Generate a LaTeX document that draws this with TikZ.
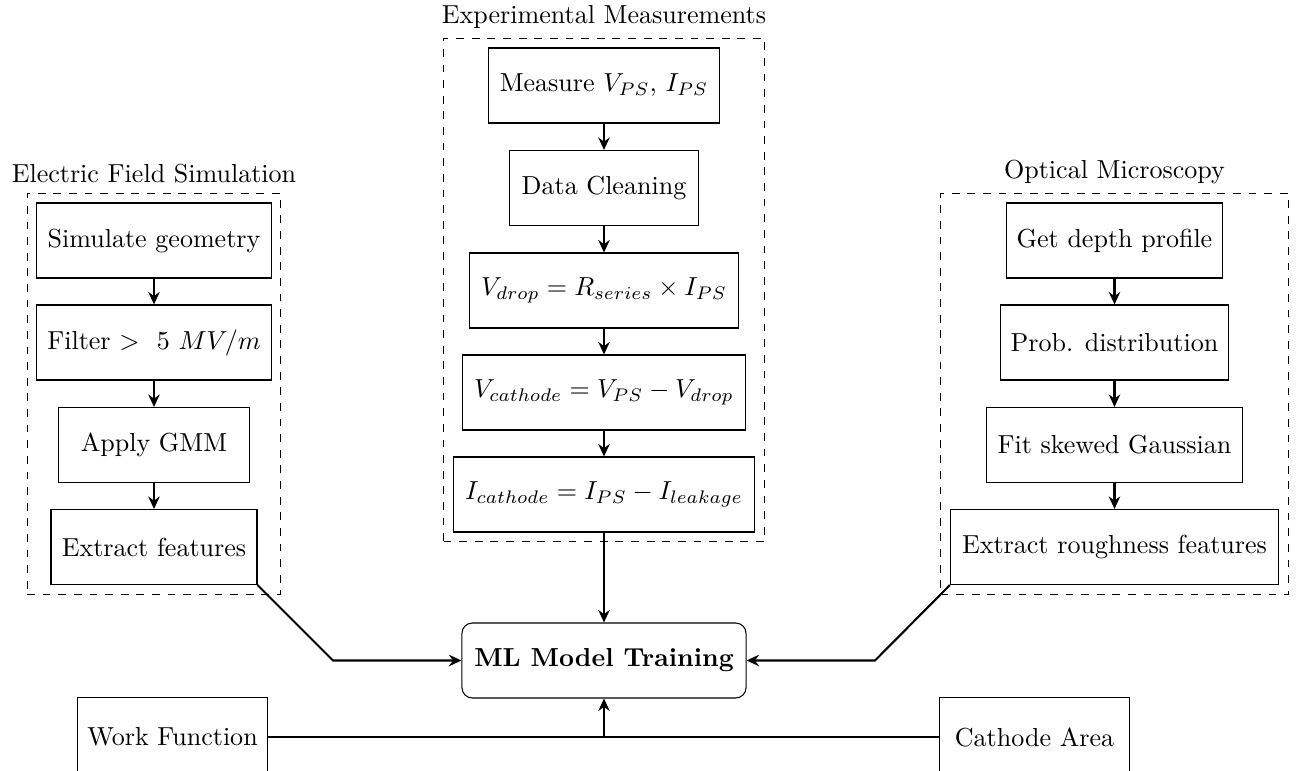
\documentclass[tikz,border=0pt]{standalone}
\usetikzlibrary{arrows.meta,fit}
\begin{document}
\begin{tikzpicture}[x=0.384pt,y=-0.384pt,
  stepbox/.style={draw, minimum height=28.8pt, inner xsep=2pt, align=center},
  arr/.style={thick, -{Stealth[length=4.8pt,width=4.4pt,inset=1.6pt]}},
  conn/.style={thick},
  group/.style={draw, dashed, inner sep=3.6pt},
  mlbox/.style={draw, rounded corners=4pt, minimum width=109.1pt, minimum height=28.8pt},
  inbox/.style={draw, minimum height=30pt}]
\clip (0,0) rectangle (1300,771);

% left column
\node[stepbox, minimum width=89.9pt] (l1) at (154,240.5) {Simulate geometry};
\node[stepbox, minimum width=89.9pt] (l2) at (154,342.5) {Filter $>$ \ 5 $MV/m$};
\node[stepbox, minimum width=73pt] (l3) at (154,445) {Apply GMM};
\node[stepbox, minimum width=79.1pt] (l4) at (154,547) {Extract features};

% middle column
\node[stepbox, minimum width=88.7pt] (m1) at (604,85.5) {Measure $V_{PS}$, $I_{PS}$};
\node[stepbox, minimum width=72.6pt] (m2) at (604,188) {Data Cleaning};
\node[stepbox, minimum width=103.3pt] (m3) at (604,290.5) {$V_{drop} = R_{series} \times I_{PS}$};
\node[stepbox, minimum width=108.7pt] (m4) at (604,392.5) {$V_{cathode} = V_{PS} - V_{drop}$};
\node[stepbox, minimum width=115.6pt] (m5) at (604,494.5) {$I_{cathode} = I_{PS} - I_{leakage}$};

% right column
\node[stepbox, minimum width=83.3pt] (r1) at (1114.5,240.5) {Get depth profile};
\node[stepbox, minimum width=87.9pt] (r2) at (1114.5,342.5) {Prob. distribution};
\node[stepbox, minimum width=98.3pt] (r3) at (1114.5,445) {Fit skewed Gaussian};
\node[stepbox, minimum width=126pt] (r4) at (1114.5,547) {Extract roughness features};

% groups
\node[group, fit=(l1)(l2)(l3)(l4), label=above:{Electric Field Simulation}] (gl) {};
\node[group, fit=(m1)(m2)(m3)(m4)(m5), label=above:{Experimental Measurements}] (gm) {};
\node[group, fit=(r1)(r2)(r3)(r4), label=above:{Optical Microscopy}] (gr) {};

% model and inputs
\node[mlbox] (ml) at (604,660.5) {\textbf{ML Model Training}};
\node[inbox, minimum width=73.3pt] (wf) at (172.5,737) {Work Function};
\node[inbox, minimum width=72.6pt] (ca) at (1034.5,737) {Cathode Area};

% arrows within columns
\draw[arr] (l1.south) -- (l2.north);
\draw[arr] (l2.south) -- (l3.north);
\draw[arr] (l3.south) -- (l4.north);
\draw[arr] (m1.south) -- (m2.north);
\draw[arr] (m2.south) -- (m3.north);
\draw[arr] (m3.south) -- (m4.north);
\draw[arr] (m4.south) -- (m5.north);
\draw[arr] (r1.south) -- (r2.north);
\draw[arr] (r2.south) -- (r3.north);
\draw[arr] (r3.south) -- (r4.north);

% to the model
\coordinate (lb) at (333,660.5);
\coordinate (rb) at (875,660.5);
\draw[arr] (l4.south east) -- (lb) -- (ml.west);
\draw[arr] (r4.south west) -- (rb) -- (ml.east);
\draw[arr] (m5.south) -- (ml.north);
\draw[conn] (wf.east) -- (ca.west);
\coordinate (jn) at (ml.south |- wf.east);
\draw[arr] (jn) -- (ml.south);
\end{tikzpicture}
\end{document}
